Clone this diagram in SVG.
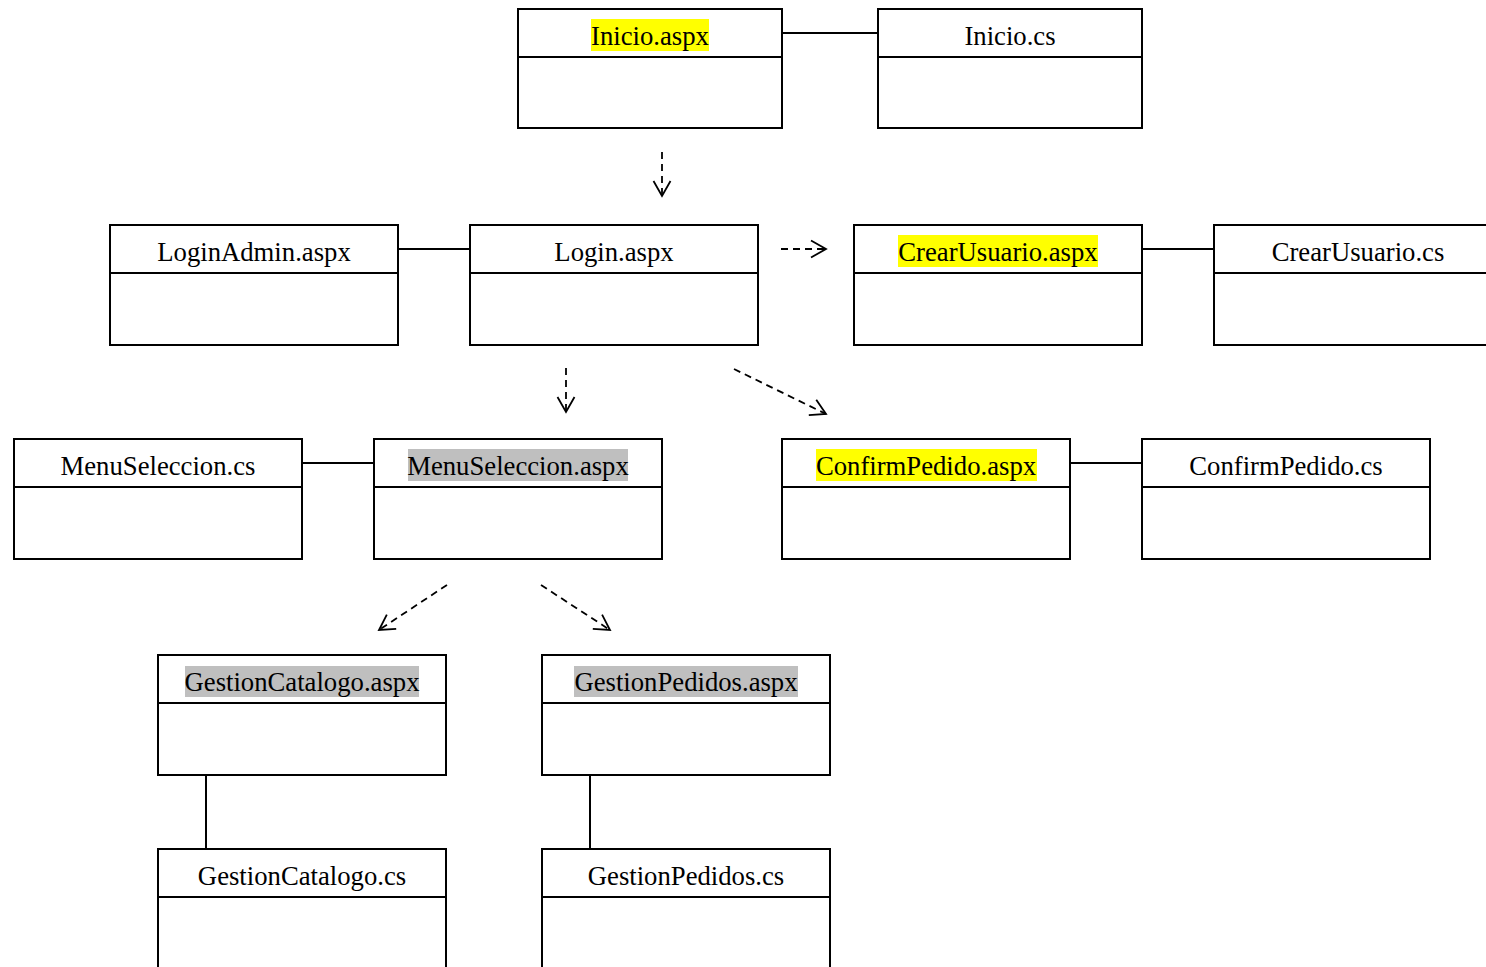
<svg xmlns="http://www.w3.org/2000/svg" width="1486" height="967" viewBox="0 0 1486 967">
<defs>
<style>
.box{fill:#fff;stroke:#000;stroke-width:2}
.div{stroke:#000;stroke-width:2}
.lbl{font-family:"Liberation Serif","Times New Roman",serif;font-size:26.7px;fill:#000;text-anchor:middle}
.hy{fill:#ffff00}
.hg{fill:#bfbfbf}
.assoc{stroke:#000;stroke-width:2;fill:none}
.dep{stroke:#000;stroke-width:1.8;fill:none;stroke-dasharray:7 5}
</style>
<marker id="open" markerUnits="userSpaceOnUse" markerWidth="24" markerHeight="24" viewBox="-20 -12 24 24" refX="0" refY="0" orient="auto">
<path d="M-15,-8.5 L0,0 L-15,8.5" fill="none" stroke="#000" stroke-width="1.8"/>
</marker>
</defs>
<rect width="1486" height="967" fill="#fff"/>
<g id="connectors">
<line class="assoc" x1="782" y1="33" x2="878" y2="33"/>
<line class="assoc" x1="398" y1="249" x2="470" y2="249"/>
<line class="assoc" x1="1142" y1="249" x2="1214" y2="249"/>
<line class="assoc" x1="302" y1="463" x2="374" y2="463"/>
<line class="assoc" x1="1070" y1="463" x2="1142" y2="463"/>
<line class="assoc" x1="206" y1="775" x2="206" y2="849"/>
<line class="assoc" x1="590" y1="775" x2="590" y2="849"/>
<line class="dep" x1="662" y1="152" x2="662" y2="196" marker-end="url(#open)"/>
<line class="dep" x1="781" y1="249" x2="826" y2="249" marker-end="url(#open)"/>
<line class="dep" x1="566" y1="368" x2="566" y2="412" marker-end="url(#open)"/>
<line class="dep" x1="734" y1="369" x2="826" y2="414" marker-end="url(#open)"/>
<line class="dep" x1="447" y1="585" x2="379" y2="630" marker-end="url(#open)"/>
<line class="dep" x1="541" y1="585" x2="610" y2="630" marker-end="url(#open)"/>
</g>
<g id="inicio-aspx">
<rect class="box" x="518" y="9" width="264" height="119"/>
<line class="div" x1="518" y1="57" x2="782" y2="57"/>
<rect class="hy" x="591" y="19" width="118" height="32"/>
<text class="lbl" x="650" y="45">Inicio.aspx</text>
</g>
<g id="inicio-cs">
<rect class="box" x="878" y="9" width="264" height="119"/>
<line class="div" x1="878" y1="57" x2="1142" y2="57"/>
<text class="lbl" x="1010" y="45">Inicio.cs</text>
</g>
<g id="loginadmin-aspx">
<rect class="box" x="110" y="225" width="288" height="120"/>
<line class="div" x1="110" y1="273" x2="398" y2="273"/>
<text class="lbl" x="254" y="261">LoginAdmin.aspx</text>
</g>
<g id="login-aspx">
<rect class="box" x="470" y="225" width="288" height="120"/>
<line class="div" x1="470" y1="273" x2="758" y2="273"/>
<text class="lbl" x="614" y="261">Login.aspx</text>
</g>
<g id="crearusuario-aspx">
<rect class="box" x="854" y="225" width="288" height="120"/>
<line class="div" x1="854" y1="273" x2="1142" y2="273"/>
<rect class="hy" x="898" y="235" width="200" height="32"/>
<text class="lbl" x="998" y="261">CrearUsuario.aspx</text>
</g>
<g id="crearusuario-cs">
<rect class="box" x="1214" y="225" width="288" height="120"/>
<line class="div" x1="1214" y1="273" x2="1502" y2="273"/>
<text class="lbl" x="1358" y="261">CrearUsuario.cs</text>
</g>
<g id="menuseleccion-cs">
<rect class="box" x="14" y="439" width="288" height="120"/>
<line class="div" x1="14" y1="487" x2="302" y2="487"/>
<text class="lbl" x="158" y="475">MenuSeleccion.cs</text>
</g>
<g id="menuseleccion-aspx">
<rect class="box" x="374" y="439" width="288" height="120"/>
<line class="div" x1="374" y1="487" x2="662" y2="487"/>
<rect class="hg" x="408" y="449" width="220" height="32"/>
<text class="lbl" x="518" y="475">MenuSeleccion.aspx</text>
</g>
<g id="confirmpedido-aspx">
<rect class="box" x="782" y="439" width="288" height="120"/>
<line class="div" x1="782" y1="487" x2="1070" y2="487"/>
<rect class="hy" x="816" y="449" width="221" height="32"/>
<text class="lbl" x="926" y="475">ConfirmPedido.aspx</text>
</g>
<g id="confirmpedido-cs">
<rect class="box" x="1142" y="439" width="288" height="120"/>
<line class="div" x1="1142" y1="487" x2="1430" y2="487"/>
<text class="lbl" x="1286" y="475">ConfirmPedido.cs</text>
</g>
<g id="gestioncatalogo-aspx">
<rect class="box" x="158" y="655" width="288" height="120"/>
<line class="div" x1="158" y1="703" x2="446" y2="703"/>
<rect class="hg" x="185" y="666" width="234" height="31"/>
<text class="lbl" x="302" y="691">GestionCatalogo.aspx</text>
</g>
<g id="gestionpedidos-aspx">
<rect class="box" x="542" y="655" width="288" height="120"/>
<line class="div" x1="542" y1="703" x2="830" y2="703"/>
<rect class="hg" x="574" y="666" width="224" height="31"/>
<text class="lbl" x="686" y="691">GestionPedidos.aspx</text>
</g>
<g id="gestioncatalogo-cs">
<rect class="box" x="158" y="849" width="288" height="130"/>
<line class="div" x1="158" y1="897" x2="446" y2="897"/>
<text class="lbl" x="302" y="885">GestionCatalogo.cs</text>
</g>
<g id="gestionpedidos-cs">
<rect class="box" x="542" y="849" width="288" height="130"/>
<line class="div" x1="542" y1="897" x2="830" y2="897"/>
<text class="lbl" x="686" y="885">GestionPedidos.cs</text>
</g>
</svg>
